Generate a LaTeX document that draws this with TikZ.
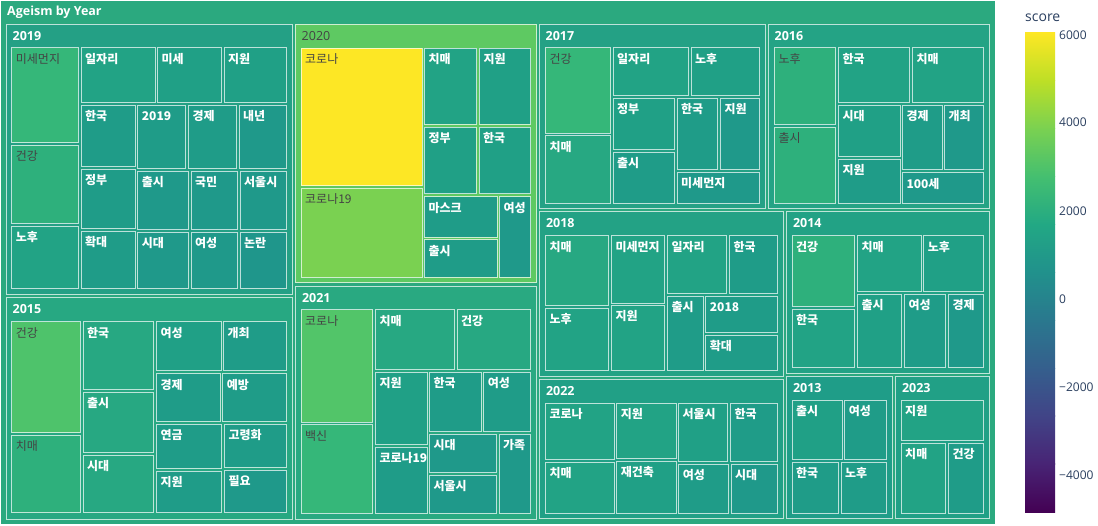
\documentclass[tikz,border=0pt]{standalone}
\usepackage{fontspec}
\setmainfont{Open Sans}
\newfontfamily\kr{Noto Sans CJK KR}
\definecolor{T1}{HTML}{1F968B}
\definecolor{T2}{HTML}{1F998A}
\definecolor{T3}{HTML}{1F9C88}
\definecolor{T4}{HTML}{20A086}
\definecolor{T5}{HTML}{22A385}
\definecolor{T6}{HTML}{27A882}
\definecolor{T7}{HTML}{2EB07C}
\definecolor{T8}{HTML}{35B779}
\definecolor{G1}{HTML}{4EC36B}
\definecolor{G2}{HTML}{52C569}
\definecolor{G3}{HTML}{7AD151}
\definecolor{YY}{HTML}{FDE725}
\definecolor{HR}{HTML}{2BA97F}
\definecolor{H19}{HTML}{24A085}
\definecolor{H20}{HTML}{5EC962}
\definecolor{H17}{HTML}{24A185}
\definecolor{H16}{HTML}{24A385}
\definecolor{H15}{HTML}{27A882}
\definecolor{H21}{HTML}{29A981}
\definecolor{H18}{HTML}{23A285}
\definecolor{H14}{HTML}{22A285}
\definecolor{H22}{HTML}{21A086}
\definecolor{H13}{HTML}{1F9D88}
\definecolor{H23}{HTML}{21A086}
\definecolor{dk}{HTML}{444444}
\definecolor{axis}{HTML}{2A3F5F}
\definecolor{V0}{HTML}{440154}
\definecolor{V1}{HTML}{482475}
\definecolor{V2}{HTML}{414487}
\definecolor{V3}{HTML}{355F8D}
\definecolor{V4}{HTML}{2A788E}
\definecolor{V5}{HTML}{21918C}
\definecolor{V6}{HTML}{22A884}
\definecolor{V7}{HTML}{44BF70}
\definecolor{V8}{HTML}{7AD151}
\definecolor{V9}{HTML}{BDDF26}
\definecolor{V10}{HTML}{FDE725}
\tikzset{
  tilebox/.style={draw=white, draw opacity=0.7, line width=1pt},
  wl/.style={anchor=base west, inner sep=0pt, text=white, font=\kr\bfseries\fontsize{12}{14}\selectfont},
  dl/.style={anchor=base west, inner sep=0pt, text=dk, font=\kr\fontsize{12}{14}\selectfont},
  wh/.style={anchor=base west, inner sep=0pt, text=white, font=\bfseries\fontsize{12.5}{14}\selectfont},
  dh/.style={anchor=base west, inner sep=0pt, text=dk, font=\fontsize{12.5}{14}\selectfont},
  tick/.style={anchor=west, inner sep=0pt, text=axis, font=\fontsize{12}{14}\selectfont},
}
% tile: name x1 y1 x2 y2 fill style label
\newcommand\tl[8]{\path[tilebox,fill=#6] (#2,#3) rectangle (#4,#5); \node[#7] (#1) at (#2+4,#3+15.5) {#8};}
% header box: name x1 y1 x2 y2 fill style label
\newcommand\hb[8]{\path[tilebox,fill=#6] (#2,#3) rectangle (#4,#5); \node[#7] (#1) at (#2+6.5,#3+16) {#8};}
\begin{document}
\begin{tikzpicture}[x=1pt,y=-1pt]
\useasboundingbox (0,0) rectangle (1098,525);
\fill[white] (0,0) rectangle (1098,525);
% root
\path[tilebox,fill=HR] (0.5,0.5) rectangle (995,524);
\node[wh] (root) at (7,15.5) {Ageism by Year};
% 2019
\hb{h19}{6}{24}{292}{294}{H19}{wh}{2019}
\tl{mm19}{11.7}{47.7}{78.3}{142.7}{T8}{dl}{미세먼지}
\tl{gg19}{11.7}{145.3}{78.3}{223}{T7}{dl}{건강}
\tl{nh19}{11.7}{226}{78.3}{288.3}{T5}{wl}{노후}
\tl{il19}{81}{47.7}{155}{102.3}{T5}{wl}{일자리}
\tl{ms19}{157.3}{47.7}{221.3}{102.3}{T4}{wl}{미세}
\tl{jw19}{224}{47.7}{286.3}{102.3}{T4}{wl}{지원}
\tl{hk19}{81}{105.3}{135}{166}{T3}{wl}{한국}
\tl{y19}{137.7}{105.3}{185.7}{168.3}{T3}{wl}{2019}
\tl{gj19}{188.3}{105.3}{236.3}{168.3}{T3}{wl}{경제}
\tl{nn19}{239}{105.3}{286.3}{168.3}{T2}{wl}{내년}
\tl{jb19}{81}{169}{135}{228.3}{T3}{wl}{정부}
\tl{cs19}{137.7}{171}{188.3}{229.7}{T2}{wl}{출시}
\tl{km19}{191}{171}{237.7}{229.7}{T2}{wl}{국민}
\tl{su19}{240}{171}{286.3}{229.7}{T2}{wl}{서울시}
\tl{hd19}{81}{231}{135}{288.3}{T3}{wl}{확대}
\tl{sd19}{137.7}{232.3}{188.3}{288.3}{T2}{wl}{시대}
\tl{ys19}{191}{232.3}{237.7}{288.3}{T2}{wl}{여성}
\tl{nr19}{240}{232.3}{286.3}{288.3}{T1}{wl}{논란}
% 2020
\hb{h20}{295}{24}{536.7}{282.7}{H20}{dh}{2020}
\tl{kr20}{301}{48}{422}{185.7}{YY}{dl}{코로나}
\tl{kn20}{301}{188.3}{422}{277}{G3}{dl}{코로나19}
\tl{cm20}{424.3}{48}{476.7}{124.3}{T5}{wl}{치매}
\tl{jw20}{479.3}{48}{530.7}{124.3}{T4}{wl}{지원}
\tl{jb20}{424.3}{127}{476}{193.7}{T4}{wl}{정부}
\tl{hk20}{479}{127}{530.7}{193.7}{T4}{wl}{한국}
\tl{mk20}{424.3}{196.7}{497}{237}{T3}{wl}{마스크}
\tl{cs20}{424.3}{239.7}{497}{277}{T3}{wl}{출시}
\tl{ys20}{499.3}{196.7}{530.7}{277}{T2}{wl}{여성}
% 2017
\hb{h17}{539}{24}{765.7}{208.7}{H17}{wh}{2017}
\tl{gg17}{545.3}{47.7}{610.7}{133}{T8}{dl}{건강}
\tl{cm17}{545.3}{135.7}{610.7}{203}{T6}{wl}{치매}
\tl{il17}{613}{47.7}{688.7}{95.7}{T5}{wl}{일자리}
\tl{nh17}{691}{47.7}{759.7}{95.7}{T4}{wl}{노후}
\tl{jb17}{613}{98.3}{674.3}{149.3}{T4}{wl}{정부}
\tl{cs17}{613}{152.3}{674.3}{203}{T3}{wl}{출시}
\tl{hk17}{677}{98.3}{717.7}{169.3}{T3}{wl}{한국}
\tl{jw17}{720.3}{98.3}{759.7}{169.3}{T2}{wl}{지원}
\tl{mm17}{677}{172.3}{759.7}{203}{T2}{wl}{미세먼지}
% 2016
\hb{h16}{768}{24}{989.3}{208.7}{H16}{wh}{2016}
\tl{nh16}{774.3}{47.7}{835.7}{124}{T7}{dl}{노후}
\tl{cs16}{774.3}{127}{835.7}{203}{T7}{dl}{출시}
\tl{hk16}{838.3}{47.7}{909.7}{102}{T5}{wl}{한국}
\tl{cm16}{912.3}{47.7}{983.3}{102}{T5}{wl}{치매}
\tl{sd16}{838.3}{105}{900}{156.3}{T4}{wl}{시대}
\tl{jw16}{838.3}{159.3}{900}{203}{T3}{wl}{지원}
\tl{gj16}{902.3}{105}{942}{169.7}{T3}{wl}{경제}
\tl{gc16}{944.3}{105}{983.3}{169.7}{T2}{wl}{개최}
\tl{bs16}{902.3}{172.7}{983.3}{203}{T2}{wl}{100세}
% 2015
\hb{h15}{6}{297.3}{292.3}{519.3}{H15}{wh}{2015}
\tl{gg15}{11.7}{321.7}{80.3}{432.7}{G1}{dl}{건강}
\tl{cm15}{11.7}{435.3}{80.3}{512.7}{T7}{dl}{치매}
\tl{hk15}{83}{321.7}{153.7}{389}{T6}{wl}{한국}
\tl{cs15}{83}{392}{153.7}{452.7}{T6}{wl}{출시}
\tl{sd15}{83}{455.3}{153.7}{512.7}{T6}{wl}{시대}
\tl{ys15}{156.3}{321.7}{221}{370.7}{T4}{wl}{여성}
\tl{gc15}{223.3}{321.7}{286.3}{370.7}{T3}{wl}{개최}
\tl{gj15}{156.3}{373.7}{220.3}{421.3}{T3}{wl}{경제}
\tl{yb15}{222.7}{373.7}{286.3}{421.3}{T3}{wl}{예방}
\tl{yg15}{156.3}{424.3}{221.3}{468.3}{T3}{wl}{연금}
\tl{gr15}{224.3}{424.3}{286.3}{467.3}{T3}{wl}{고령화}
\tl{jw15}{156.3}{471}{221.3}{512.7}{T3}{wl}{지원}
\tl{py15}{224.3}{470.3}{286.3}{512.7}{T2}{wl}{필요}
% 2021
\hb{h21}{295.3}{286}{536.7}{519}{H21}{wh}{2021}
\tl{kr21}{301}{309.7}{372.7}{422}{G2}{dl}{코로나}
\tl{bs21}{301}{424.7}{372.7}{513.3}{T8}{dl}{백신}
\tl{cm21}{375.3}{309.7}{454.7}{369.3}{T6}{wl}{치매}
\tl{gg21}{457}{309.7}{530.7}{369.3}{T6}{wl}{건강}
\tl{jw21}{375.3}{372}{427}{444.7}{T4}{wl}{지원}
\tl{kn21}{375.3}{447.3}{427}{513.3}{T3}{wl}{코로나19}
\tl{hk21}{429.3}{372}{481.3}{431.7}{T3}{wl}{한국}
\tl{ys21}{483.7}{372}{530.7}{431.7}{T3}{wl}{여성}
\tl{sd21}{429.3}{434.3}{496.7}{472.7}{T2}{wl}{시대}
\tl{su21}{429.3}{475.3}{496.7}{513.3}{T2}{wl}{서울시}
\tl{gj21}{499}{434.3}{530.7}{513.3}{T2}{wl}{가족}
% 2018
\hb{h18}{539.3}{211.7}{783.7}{376.7}{H18}{wh}{2018}
\tl{cm18}{545.3}{235.7}{608.7}{305.7}{T6}{wl}{치매}
\tl{nh18}{545.3}{308.3}{608.7}{370.3}{T5}{wl}{노후}
\tl{mm18}{611.3}{235.7}{664.7}{303}{T5}{wl}{미세먼지}
\tl{jw18}{611.3}{305.3}{664.7}{370.3}{T5}{wl}{지원}
\tl{il18}{667.3}{235.7}{726.7}{293.7}{T5}{wl}{일자리}
\tl{hk18}{729.3}{235.7}{777.7}{293.7}{T3}{wl}{한국}
\tl{cs18}{667.3}{296.3}{703}{370.3}{T3}{wl}{출시}
\tl{y18}{705.7}{296.3}{777.7}{332.7}{T3}{wl}{2018}
\tl{hd18}{705.7}{335.3}{777.7}{370.3}{T3}{wl}{확대}
% 2014
\hb{h14}{786.3}{211.7}{989.3}{373}{H14}{wh}{2014}
\tl{gg14}{792}{235.7}{854.7}{306}{T7}{wl}{건강}
\tl{hk14}{792}{309}{854.7}{367.3}{T5}{wl}{한국}
\tl{cm14}{857.3}{235.7}{921}{291.3}{T5}{wl}{치매}
\tl{nh14}{923.7}{235.7}{983.3}{291.3}{T4}{wl}{노후}
\tl{cs14}{857.3}{294.3}{901.7}{367.3}{T4}{wl}{출시}
\tl{ys14}{904.3}{294.3}{945.7}{367.3}{T3}{wl}{여성}
\tl{gj14}{948.3}{294.3}{983.3}{367.3}{T2}{wl}{경제}
% 2022
\hb{h22}{539.3}{379.3}{783.7}{518.3}{H22}{wh}{2022}
\tl{kr22}{545.3}{403.3}{614.3}{459.3}{T5}{wl}{코로나}
\tl{cm22}{545.3}{462.3}{614.3}{513.3}{T5}{wl}{치매}
\tl{jw22}{616.7}{403.3}{676}{458.7}{T5}{wl}{지원}
\tl{jg22}{616.7}{461.3}{676}{513.3}{T4}{wl}{재건축}
\tl{su22}{678.3}{403.3}{727.7}{461}{T4}{wl}{서울시}
\tl{hk22}{730.3}{403.3}{777.3}{461}{T3}{wl}{한국}
\tl{ys22}{678.7}{464.3}{728.3}{513.3}{T3}{wl}{여성}
\tl{sd22}{731}{464.3}{777.3}{513.3}{T2}{wl}{시대}
% 2013
\hb{h13}{786.3}{376}{892.3}{518.7}{H13}{wh}{2013}
\tl{cs13}{792}{400}{842}{459.7}{T4}{wl}{출시}
\tl{ys13}{844.7}{400}{886.7}{459.7}{T3}{wl}{여성}
\tl{hk13}{792}{462.3}{838.3}{513}{T3}{wl}{한국}
\tl{nh13}{841}{462.3}{886.7}{513}{T3}{wl}{노후}
% 2023
\hb{h23}{895.3}{376}{989.3}{518.7}{H23}{wh}{2023}
\tl{jw23}{901}{400}{983.3}{440.3}{T5}{wl}{지원}
\tl{cm23}{901}{443.3}{945.7}{513}{T5}{wl}{치매}
\tl{gg23}{948.3}{443.3}{983.3}{513}{T3}{wl}{건강}
% colorbar
\foreach \i [evaluate=\i as \j using int(\i+1)] in {0,...,9}{
  \shade[bottom color=V\i, top color=V\j] (1025,{512-\i*47.9}) rectangle (1055,{512-(\i+1)*47.9-0.3});
}
\node[anchor=west, inner sep=0pt, text=axis, font=\fontsize{14}{16}\selectfont] (cbt) at (1025,18) {score};
\node[tick] (t6) at (1059,35) {6000};
\node[tick] (t4) at (1059,122.5) {4000};
\node[tick] (t2) at (1059,210.8) {2000};
\node[tick] (t0) at (1059,299) {0};
\node[tick] (tm2) at (1059,387.7) {−2000};
\node[tick] (tm4) at (1059,475.7) {−4000};
\end{tikzpicture}
\end{document}
